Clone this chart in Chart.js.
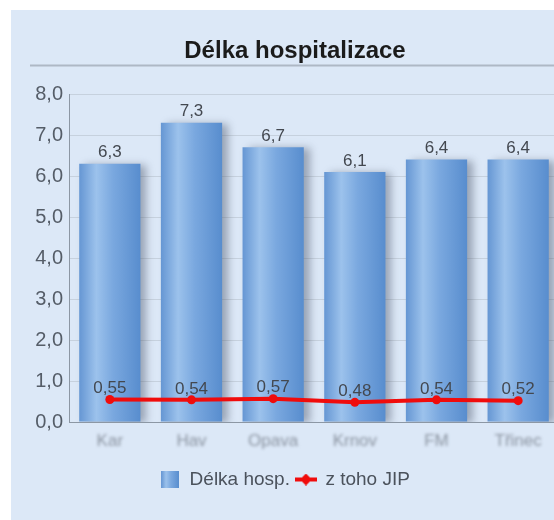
<!DOCTYPE html>
<html lang="cs">
<head>
    <meta charset="UTF-8">
    <script src="https://cdn.jsdelivr.net/npm/chart.js"></script>
    <title>Délka hospitalizace</title>
    <style>
        body { margin: 0; background: #fff; overflow: hidden; }
        #panel { position: absolute; left: 11px; top: 10px; width: 568px; height: 510px; background: #dce8f7; }
    </style>
</head>
<body>
    <div id="panel">
        <canvas id="myChart" width="568" height="510"></canvas>
    </div>
    <script>
        const categories = ['Kar', 'Hav', 'Opava', 'Krnov', 'FM', 'Třinec'];
        const delkaHosp = [6.3, 7.3, 6.7, 6.1, 6.4, 6.4];
        const zTohoJip = [0.55, 0.54, 0.57, 0.48, 0.54, 0.52];
        const yTicks = [0, 1, 2, 3, 4, 5, 6, 7, 8];

        Chart.defaults.font.family = "'Liberation Sans', Arial, sans-serif";

        const fmt = (v, d) => v.toFixed(d).replace('.', ',');

        function barGradient(ctx, x0, x1) {
            const g = ctx.createLinearGradient(x0, 0, x1, 0);
            g.addColorStop(0, '#6596d3');
            g.addColorStop(0.28, '#9cc2ec');
            g.addColorStop(0.55, '#7aa8df');
            g.addColorStop(1, '#588dce');
            return g;
        }

        // legend icons
        const barIcon = document.createElement('canvas');
        barIcon.width = 18; barIcon.height = 17;
        let ic = barIcon.getContext('2d');
        ic.fillStyle = barGradient(ic, 0, 18);
        ic.fillRect(0, 0, 18, 17);

        const lineIcon = document.createElement('canvas');
        lineIcon.width = 22; lineIcon.height = 12;
        ic = lineIcon.getContext('2d');
        ic.fillStyle = '#f00c0c';
        ic.fillRect(0, 4, 22, 4);
        ic.beginPath();
        ic.moveTo(11, 0); ic.lineTo(17, 6); ic.lineTo(11, 12); ic.lineTo(5, 6);
        ic.closePath(); ic.fill();

        const decor = {
            id: 'decor',
            afterLayout(chart) {
                chart.titleBlock.left += 10;
                chart.titleBlock.right += 10;
                const s = chart.scales.x;
                if (!s.__blur) {
                    const orig = s.drawLabels;
                    s.drawLabels = function (a) {
                        this.ctx.save();
                        this.ctx.filter = 'blur(1.8px)';
                        orig.call(this, a);
                        this.ctx.restore();
                    };
                    s.__blur = true;
                }
            },
            beforeDatasetDraw(chart, args) {
                if (args.index === 0) {
                    const ctx = chart.ctx;
                    ctx.save();
                    ctx.shadowColor = 'rgba(70,80,100,0.45)';
                    ctx.shadowBlur = 8;
                    ctx.shadowOffsetX = 6;
                    ctx.shadowOffsetY = 1;
                }
            },
            afterDatasetDraw(chart, args) {
                if (args.index === 0) chart.ctx.restore();
            },
            afterDraw(chart) {
                const ctx = chart.ctx;
                const y = chart.titleBlock.top + 27 + 28.5;
                ctx.save();
                ctx.strokeStyle = '#aeb8c5';
                ctx.lineWidth = 2;
                ctx.beginPath();
                ctx.moveTo(19, y);
                ctx.lineTo(chart.width, y);
                ctx.stroke();

                ctx.fillStyle = '#434850';
                ctx.textAlign = 'center';
                ctx.textBaseline = 'middle';
                ctx.font = "17px 'Liberation Sans', Arial, sans-serif";
                chart.getDatasetMeta(0).data.forEach((el, i) => {
                    ctx.fillText(fmt(delkaHosp[i], 1), el.x, el.y - 11);
                });
                chart.getDatasetMeta(1).data.forEach((el, i) => {
                    ctx.fillText(fmt(zTohoJip[i], 2), el.x, el.y - 11);
                });
                ctx.restore();
            }
        };

        const ctx = document.getElementById('myChart');
        new Chart(ctx, {
            type: 'bar',
            data: {
                labels: categories,
                datasets: [{
                    label: 'Délka hosp.',
                    data: delkaHosp,
                    order: 1,
                    categoryPercentage: 1,
                    barPercentage: 0.75,
                    backgroundColor: (c) => {
                        const xs = c.chart.scales.x;
                        if (!xs || c.dataIndex === undefined) return '#7aa8de';
                        const cx = xs.getPixelForValue(c.dataIndex);
                        const w = xs.width / categories.length * 0.75;
                        return barGradient(c.chart.ctx, cx - w / 2, cx + w / 2);
                    },
                    borderWidth: 0
                }, {
                    type: 'line',
                    label: 'z toho JIP',
                    data: zTohoJip,
                    order: 0,
                    borderColor: '#f00c0c',
                    backgroundColor: '#f00c0c',
                    borderWidth: 4,
                    pointRadius: 4.5,
                    pointBorderWidth: 0,
                    tension: 0
                }]
            },
            options: {
                responsive: false,
                animation: false,
                layout: { padding: { left: 0, right: 20, top: 0, bottom: 21 } },
                plugins: {
                    tooltip: { enabled: false },
                    title: {
                        display: true,
                        text: 'Délka hospitalizace',
                        color: '#1b1b1b',
                        font: { size: 24, weight: 'bold', lineHeight: 1.2 },
                        padding: { top: 27, bottom: 28.2 }
                    },
                    legend: {
                        position: 'bottom',
                        labels: {
                            usePointStyle: true,
                            pointStyleWidth: 20,
                            padding: 6,
                            color: '#4b525c',
                            font: { size: 19 },
                            generateLabels: (chart) => chart.data.datasets.map((ds, i) => ({
                                text: ds.label,
                                pointStyle: i === 0 ? barIcon : lineIcon,
                                fontColor: '#4b525c',
                                lineWidth: 0,
                                datasetIndex: i
                            }))
                        }
                    }
                },
                scales: {
                    x: {
                        grid: { display: false, drawTicks: false },
                        border: { display: true, color: '#8c97a4', width: 1 },
                        ticks: { color: '#8a93a0', font: { size: 17 }, padding: 9 },
                        afterFit: (s) => { s.height = 42; }
                    },
                    y: {
                        min: yTicks[0],
                        max: yTicks[yTicks.length - 1],
                        afterBuildTicks: (s) => { s.ticks = yTicks.map(v => ({ value: v })); },
                        grid: { color: '#c6d1de', drawTicks: false },
                        border: { display: true, color: '#8c97a4', width: 1 },
                        ticks: {
                            color: '#555d68',
                            font: { size: 20 },
                            padding: 6,
                            callback: (v) => fmt(v, 1)
                        },
                        afterFit: (s) => { s.width = 58; }
                    }
                }
            },
            plugins: [decor]
        });
    </script>
</body>
</html>
